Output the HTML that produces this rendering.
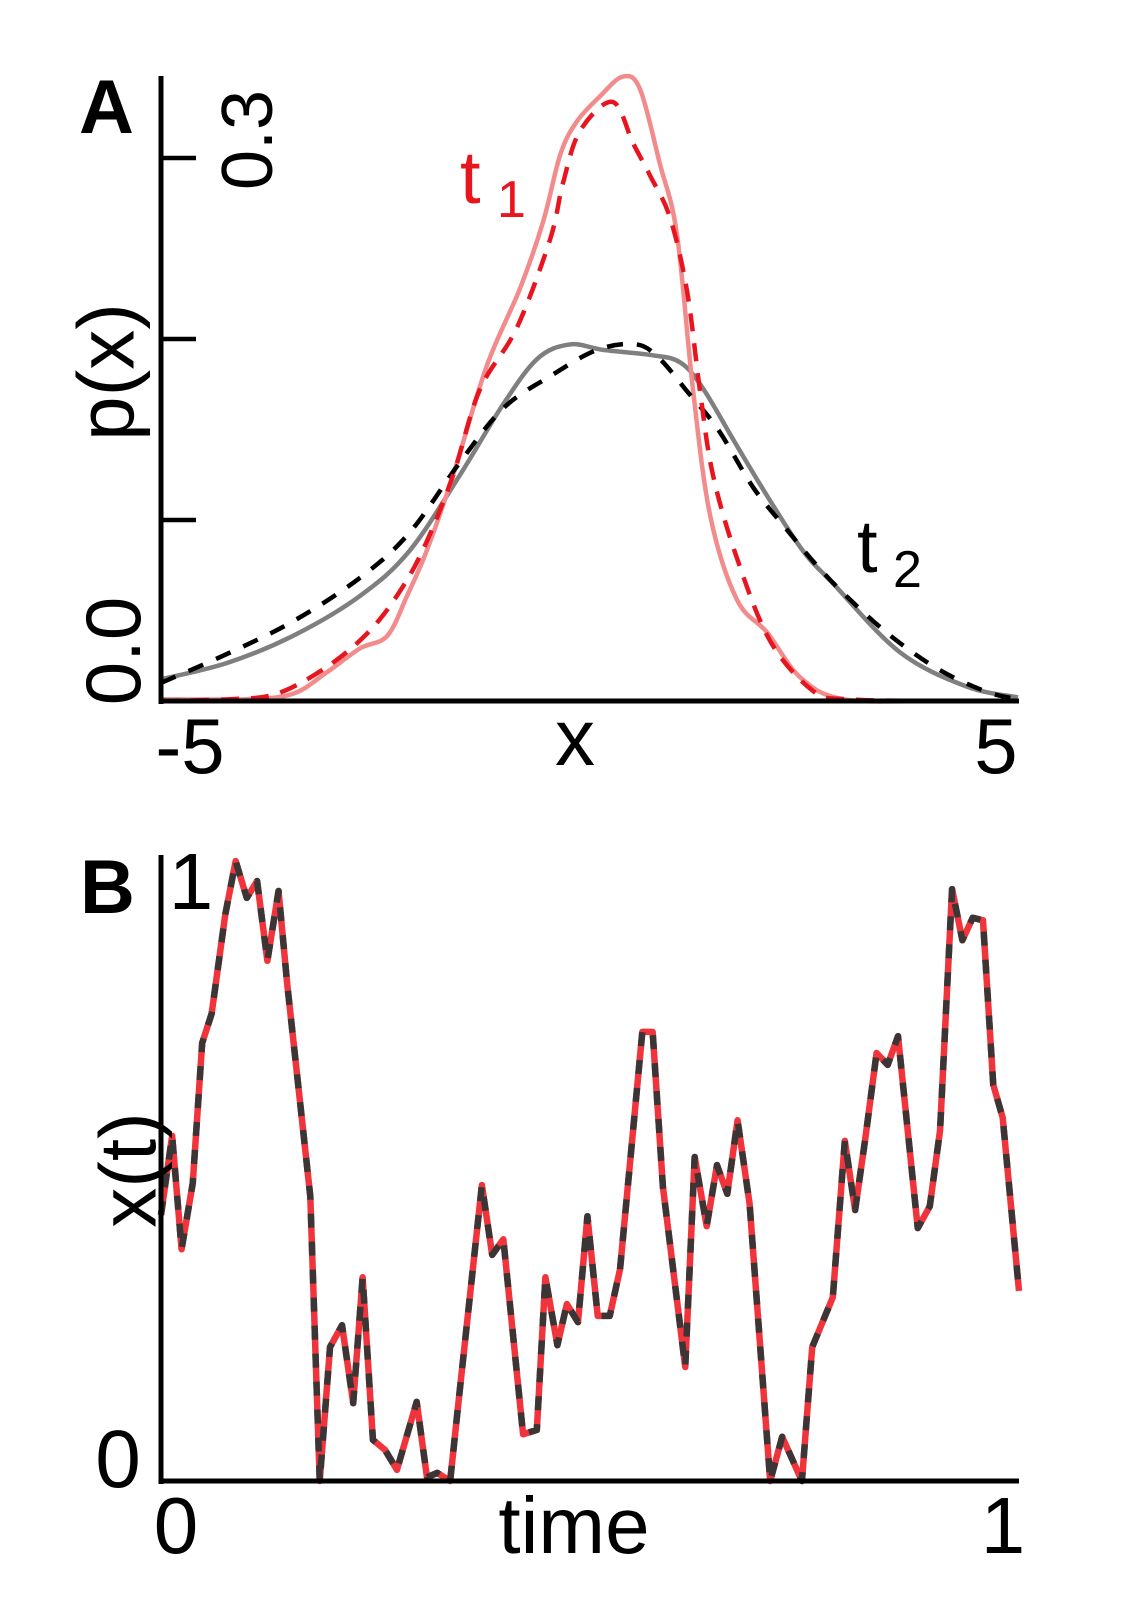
<!DOCTYPE html>
<html><head><meta charset="utf-8">
<style>
html,body{margin:0;padding:0;background:#fff;}
svg{display:block;font-family:"Liberation Sans",Arial,sans-serif;}
</style></head>
<body>
<svg id="fig" width="1132" height="1606" viewBox="0 0 1132 1606" xmlns="http://www.w3.org/2000/svg">
  <rect width="1132" height="1606" fill="#fff"/>
  <g id="panelA"></g>
  <g id="panelB"></g>
  <!-- Panel A text -->
  <text x="79" y="133" font-size="76" font-weight="bold">A</text>
  <text x="248" y="140" font-size="72" text-anchor="middle" dominant-baseline="central" transform="rotate(-90 248 140)">0.3</text>
  <text x="113" y="651" font-size="78" text-anchor="middle" dominant-baseline="central" transform="rotate(-90 113 651)">0.0</text>
  <text x="106" y="372" font-size="80" text-anchor="middle" dominant-baseline="central" transform="rotate(-90 106 372)">p(x)</text>
  <text x="190" y="773" font-size="78" text-anchor="middle">-5</text>
  <text x="996" y="773" font-size="78" text-anchor="middle">5</text>
  <text x="575" y="765" font-size="80" text-anchor="middle">x</text>
  <text x="460" y="203" font-size="74" fill="#e8141e">t</text>
  <text x="497" y="217" font-size="52" fill="#e8141e">1</text>
  <text x="857" y="572" font-size="74" fill="#000">t</text>
  <text x="893" y="587" font-size="52" fill="#000">2</text>
  <!-- Panel B text -->
  <text x="80" y="913" font-size="76" font-weight="bold">B</text>
  <text x="191" y="909" font-size="80" text-anchor="middle">1</text>
  <text x="118" y="1487" font-size="82" text-anchor="middle">0</text>
  <text x="128" y="1170" font-size="80" text-anchor="middle" dominant-baseline="central" transform="rotate(-90 128 1170)">x(t)</text>
  <text x="176" y="1553" font-size="80" text-anchor="middle">0</text>
  <text x="1003" y="1553" font-size="80" text-anchor="middle">1</text>
  <text x="574" y="1553" font-size="80" text-anchor="middle">time</text>
</svg>
<script>
// ---- Panel A data ----
const t1TrueX = [-5, -4, -3.46, -3.06, -2.68, -2.36, -2.13, -1.9, -1.59, -1.2, -0.81, -0.54, -0.34, -0.15, 0.12, 0.39, 0.59, 0.82, 1.02, 1.21, 1.41, 1.72, 2.07, 2.46, 2.96, 4, 5];
const t1TrueP = [0.001, 0.001, 0.004, 0.016, 0.029, 0.036, 0.058, 0.083, 0.125, 0.185, 0.228, 0.265, 0.302, 0.320, 0.334, 0.345, 0.338, 0.297, 0.258, 0.171, 0.102, 0.056, 0.038, 0.013, 0.001, 0, 0];
const t1EstX = [-5, -4.2, -3.65, -3.06, -2.56, -2.18, -1.9, -1.59, -1.28, -0.85, -0.46, -0.31, -0.11, 0.27, 0.51, 0.71, 0.94, 1.14, 1.29, 1.44, 1.72, 2.11, 2.61, 3.0, 4, 5];
const t1EstP = [0, 0.001, 0.004, 0.019, 0.039, 0.063, 0.088, 0.125, 0.172, 0.206, 0.255, 0.286, 0.315, 0.331, 0.308, 0.290, 0.267, 0.226, 0.171, 0.125, 0.079, 0.033, 0.0055, 0.001, 0, 0];
const t2TrueX = [-5, -4.23, -3.46, -2.68, -2.1, -1.51, -1.02, -0.61, -0.23, 0.16, 0.74, 1.06, 1.32, 1.72, 2.09, 2.49, 2.84, 3.62, 4.4, 5];
const t2TrueP = [0.012, 0.021, 0.036, 0.058, 0.083, 0.125, 0.163, 0.189, 0.197, 0.194, 0.191, 0.187, 0.173, 0.141, 0.112, 0.083, 0.065, 0.027, 0.008, 0.002];
const t2EstX = [-5, -4.23, -3.46, -2.68, -2.1, -1.51, -1.0, -0.44, 0.09, 0.55, 0.82, 1.14, 1.5, 1.91, 2.28, 2.65, 3.04, 3.54, 4.09, 4.64, 5];
const t2EstP = [0.010, 0.026, 0.044, 0.068, 0.093, 0.132, 0.162, 0.180, 0.194, 0.197, 0.189, 0.171, 0.150, 0.118, 0.096, 0.075, 0.056, 0.035, 0.017, 0.005, 0.001];
const aYTicks = [0, 0.1, 0.2, 0.3];

// ---- Panel B data ----
const timeVals = [0, 0.013, 0.024, 0.037, 0.048, 0.059, 0.075, 0.087, 0.100, 0.112, 0.124, 0.137, 0.147, 0.174, 0.185, 0.197, 0.211, 0.224, 0.235, 0.247, 0.261, 0.275, 0.298, 0.310, 0.322, 0.337, 0.348, 0.374, 0.386, 0.399, 0.422, 0.438, 0.448, 0.462, 0.473, 0.486, 0.497, 0.509, 0.523, 0.535, 0.561, 0.573, 0.585, 0.611, 0.622, 0.636, 0.648, 0.660, 0.672, 0.686, 0.710, 0.724, 0.747, 0.759, 0.783, 0.797, 0.809, 0.821, 0.834, 0.847, 0.859, 0.882, 0.896, 0.908, 0.922, 0.934, 0.946, 0.958, 0.970, 0.981, 1.0];
const xtVals = [0.427, 0.554, 0.372, 0.478, 0.703, 0.750, 0.910, 0.995, 0.936, 0.963, 0.835, 0.947, 0.799, 0.457, 0, 0.215, 0.250, 0.125, 0.327, 0.066, 0.050, 0.018, 0.127, 0.006, 0.013, 0, 0.143, 0.475, 0.363, 0.388, 0.075, 0.082, 0.327, 0.218, 0.284, 0.255, 0.425, 0.265, 0.265, 0.340, 0.721, 0.721, 0.472, 0.183, 0.520, 0.409, 0.507, 0.461, 0.579, 0.445, 0, 0.071, 0, 0.215, 0.295, 0.546, 0.435, 0.551, 0.687, 0.668, 0.714, 0.406, 0.441, 0.563, 0.950, 0.868, 0.904, 0.900, 0.636, 0.583, 0.305];

const NS = 'http://www.w3.org/2000/svg';
function mk(tag, parent) { const e = document.createElementNS(NS, tag); parent.appendChild(e); return e; }

// Panel A axes
const ax = v => 161 + (v + 5) / 10 * (1018 - 161);
const ay = p => 701 - p * 1810;
const gA = document.getElementById('panelA');

function smoothPath(xs, ys) {
  const pts = xs.map((x, i) => [ax(x), ay(ys[i])]);
  let d = 'M' + pts[0][0] + ',' + pts[0][1];
  for (let i = 0; i < pts.length - 1; i++) {
    const p0 = pts[Math.max(0, i - 1)], p1 = pts[i], p2 = pts[i + 1], p3 = pts[Math.min(pts.length - 1, i + 2)];
    const c1x = p1[0] + (p2[0] - p0[0]) / 6, c1y = p1[1] + (p2[1] - p0[1]) / 6;
    const c2x = p2[0] - (p3[0] - p1[0]) / 6, c2y = p2[1] - (p3[1] - p1[1]) / 6;
    d += ' C' + c1x + ',' + c1y + ' ' + c2x + ',' + c2y + ' ' + p2[0] + ',' + p2[1];
  }
  return d;
}

const l1 = mk('path', gA);


l1.setAttribute('d', smoothPath(t2TrueX, t2TrueP));
l1.setAttribute('fill', 'none'); l1.setAttribute('stroke', '#7f7f7f'); l1.setAttribute('stroke-width', '4.5');

const l2 = mk('path', gA);


l2.setAttribute('d', smoothPath(t1TrueX, t1TrueP));
l2.setAttribute('fill', 'none'); l2.setAttribute('stroke', '#f28b8b'); l2.setAttribute('stroke-width', '4.5');

const l3 = mk('path', gA);


l3.setAttribute('d', smoothPath(t2EstX, t2EstP));
l3.setAttribute('fill', 'none'); l3.setAttribute('stroke', '#000'); l3.setAttribute('stroke-width', '4.5'); l3.setAttribute('stroke-dasharray', '16 14');

const l4 = mk('path', gA);


l4.setAttribute('d', smoothPath(t1EstX, t1EstP));
l4.setAttribute('fill', 'none'); l4.setAttribute('stroke', '#e8141e'); l4.setAttribute('stroke-width', '4.5'); l4.setAttribute('stroke-dasharray', '18 12');

const yaxA = mk('line', gA);


yaxA.setAttribute('x1', 161); yaxA.setAttribute('x2', 161); yaxA.setAttribute('y1', 76); yaxA.setAttribute('y2', 704);
yaxA.setAttribute('stroke', '#000'); yaxA.setAttribute('stroke-width', '5');
const xaxA = mk('line', gA);


xaxA.setAttribute('x1', 158.5); xaxA.setAttribute('x2', 1019); xaxA.setAttribute('y1', 701); xaxA.setAttribute('y2', 701);
xaxA.setAttribute('stroke', '#000'); xaxA.setAttribute('stroke-width', '5');
aYTicks.forEach(v => {
  const t = mk('line', gA);
  
  
  t.setAttribute('x1', 161); t.setAttribute('x2', 196); t.setAttribute('y1', ay(v)); t.setAttribute('y2', ay(v));
  t.setAttribute('stroke', '#000'); t.setAttribute('stroke-width', '4.5');
});

// Panel B
const bx = t => 161 + t * (1019 - 161);
const by = v => 1481 - v * 623;
const gB = document.getElementById('panelB');
const ptsB = timeVals.map((t, i) => bx(t) + ',' + by(xtVals[i])).join(' ');
const pr = mk('polyline', gB);


pr.setAttribute('points', ptsB);
pr.setAttribute('fill', 'none'); pr.setAttribute('stroke', '#f0343c'); pr.setAttribute('stroke-width', '6.5'); pr.setAttribute('stroke-linejoin', 'round');
const pd = mk('polyline', gB);


pd.setAttribute('points', ptsB);
pd.setAttribute('fill', 'none'); pd.setAttribute('stroke', '#3b3535'); pd.setAttribute('stroke-width', '6.5'); pd.setAttribute('stroke-dasharray', '14 14'); pd.setAttribute('stroke-linejoin', 'round');

const yaxB = mk('line', gB);


yaxB.setAttribute('x1', 161); yaxB.setAttribute('x2', 161); yaxB.setAttribute('y1', 855); yaxB.setAttribute('y2', 1484);
yaxB.setAttribute('stroke', '#000'); yaxB.setAttribute('stroke-width', '5');
const xaxB = mk('line', gB);


xaxB.setAttribute('x1', 158.5); xaxB.setAttribute('x2', 1019); xaxB.setAttribute('y1', 1481); xaxB.setAttribute('y2', 1481);
xaxB.setAttribute('stroke', '#000'); xaxB.setAttribute('stroke-width', '5');
</script>
</body></html>
